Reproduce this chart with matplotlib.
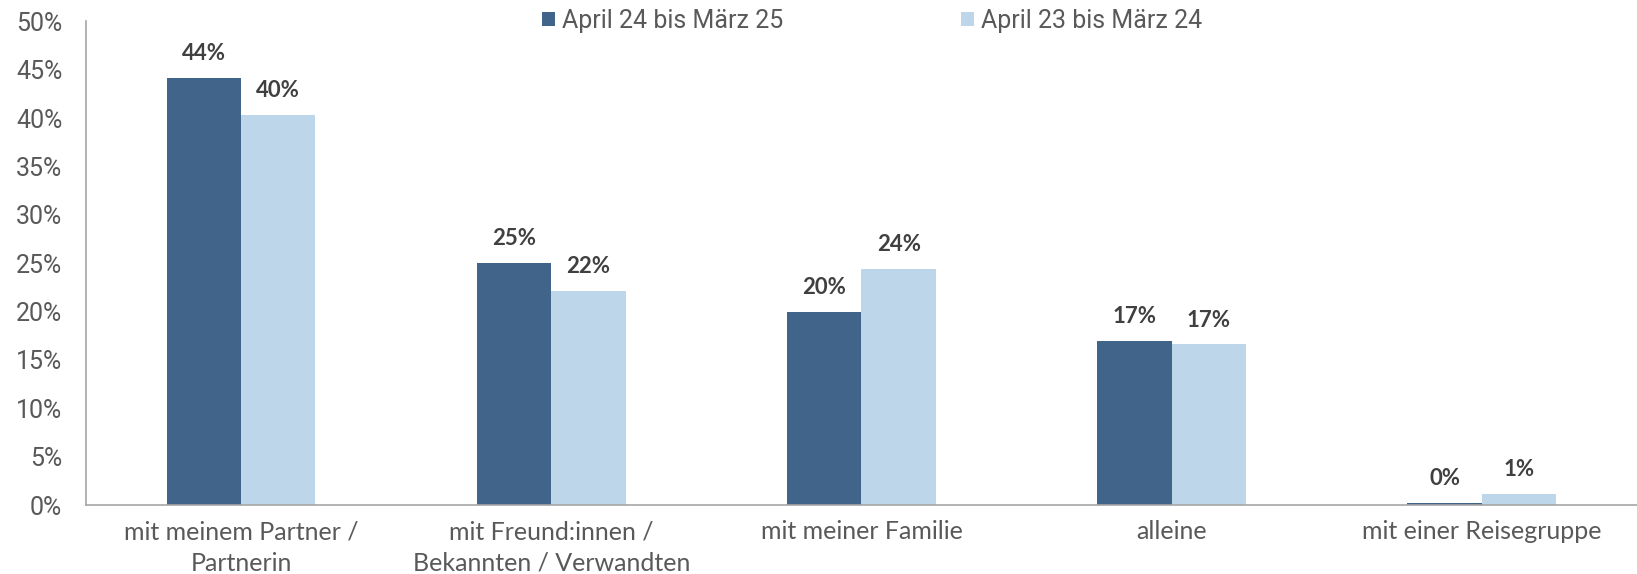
import matplotlib.pyplot as plt
import numpy as np

# Reisebegleitung, Vergleich zweier Zeitraeume
kategorien = ['mit meinem Partner /\nPartnerin', 'mit Freund:innen /\nBekannten / Verwandten',
              'mit meiner Familie', 'alleine', 'mit einer Reisegruppe']
werte_2425 = [44.1, 25.0, 20.0, 17.0, 0.2]
werte_2324 = [40.3, 22.1, 24.4, 16.6, 1.2]
labels_2425 = ['44%', '25%', '20%', '17%', '0%']
labels_2324 = ['40%', '22%', '24%', '17%', '1%']
serien = ['April 24 bis März 25', 'April 23 bis März 24']

dunkel = '#41648a'
hell = '#bdd6e9'

fig = plt.figure(figsize=(16.37, 5.74), dpi=100)
ax = fig.add_axes([0.0525, 0.12, 0.9475, 0.843])

x = np.arange(len(kategorien))
w = 0.24
b1 = ax.bar(x - w/2, werte_2425, w, color=dunkel, label=serien[0])
b2 = ax.bar(x + w/2, werte_2324, w, color=hell, label=serien[1])

for bars, labs in ((b1, labels_2425), (b2, labels_2324)):
    for r, t in zip(bars, labs):
        ax.annotate(t, (r.get_x() + r.get_width()/2, r.get_height()),
                    xytext=(0, 10), textcoords='offset points', ha='center', va='bottom',
                    fontsize=16, fontweight='bold', color='#404040', family='Lato')

ax.set_xlim(-0.5, len(kategorien) - 0.5)
ax.set_ylim(0, 50)
ax.set_yticks(np.arange(0, 51, 5))
ax.set_yticklabels([f'{v}%' for v in range(0, 51, 5)], family='Roboto', fontsize=18, color='#595959')
ax.set_xticks(x)
ax.set_xticklabels(kategorien, family='Lato', fontsize=18, color='#595959', linespacing=1.45)
ax.tick_params(axis='y', length=0, pad=17)
ax.tick_params(axis='x', length=0, pad=11)

for s in ('top', 'right'):
    ax.spines[s].set_visible(False)
ax.spines['left'].set_color('#a6a6a6')
ax.spines['bottom'].set_color('#a6a6a6')
ax.spines['left'].set_linewidth(1.2)
ax.spines['bottom'].set_linewidth(1.2)

ax.legend(loc='center', bbox_to_anchor=(0.507, 1.0), ncol=2, frameon=False,
          prop={'family': 'Roboto', 'size': 18}, labelcolor='#595959',
          handlelength=0.5, handleheight=0.5, handletextpad=0.3, columnspacing=7.1)

fig.savefig('out.png', dpi=100)
